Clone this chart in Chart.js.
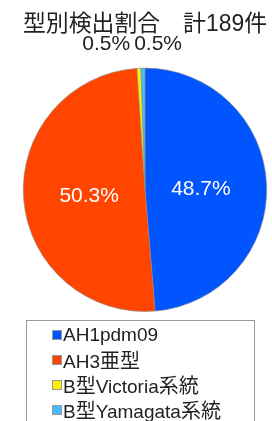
<!DOCTYPE html>
<html>
<head>
<meta charset="utf-8">
<script src="https://cdn.jsdelivr.net/npm/chart.js@4/dist/chart.umd.min.js"></script>
<style>
  body { margin: 0; background: #fff; overflow: hidden; }
  #wrap { position: relative; width: 272px; height: 421px; }
  #legend {
    position: absolute; left: 26px; top: 320px; width: 229px; height: 120px;
    border: 1px solid #999; box-sizing: border-box;
    font-family: "Liberation Sans", "Noto Sans CJK JP", sans-serif; font-size: 19px; color: #222;
    padding-top: 1px;
  }
  #legend div { height: 25px; line-height: 25px; position: relative; padding-left: 36px; white-space: nowrap; }
  #legend span.box {
    position: absolute; left: 25px; top: 8px; width: 8px; height: 8px; border: 1px solid #999;
  }
  #legend .cjk { font-family: "Noto Sans CJK JP", sans-serif; font-size: 20px; }
</style>
</head>
<body>
<div id="wrap">
  <canvas id="grafik" width="272" height="421"></canvas>
  <div id="legend"></div>
</div>
<script>
// data
const kategori = ["AH1pdm09", "AH3亜型", "B型Victoria系統", "B型Yamagata系統"];
const jumlah = [92, 95, 1, 1];
const warna = ["#0055ff", "#ff4500", "#ffee00", "#44bbff"];
const judul = "型別検出割合　計189件";

const total = jumlah.reduce((a, b) => a + b, 0);
const persen = v => (v / total * 100).toFixed(1) + "%";

// label persentase di dalam / di luar pie
const labelPie = {
  id: "labelPie",
  afterDatasetsDraw(chart) {
    const ctx = chart.ctx;
    const meta = chart.getDatasetMeta(0);
    const luar = [];
    ctx.save();
    ctx.font = "21px 'Liberation Sans', sans-serif";
    ctx.textBaseline = "middle";
    meta.data.forEach((arc, i) => {
      const p = arc.getProps(["x", "y", "startAngle", "endAngle", "outerRadius"], true);
      const mid = (p.startAngle + p.endAngle) / 2;
      const v = jumlah[i];
      if (v / total > 0.05) {
        const r = p.outerRadius * 0.46;
        ctx.fillStyle = "#fff";
        ctx.textAlign = "center";
        ctx.fillText(persen(v), p.x + Math.cos(mid) * r, p.y + Math.sin(mid) * r + 2);
      } else {
        const r = p.outerRadius + 24;
        luar.push({ teks: persen(v), x: p.x + Math.cos(mid) * r, y: p.y + Math.sin(mid) * r });
      }
    });
    // label kecil dijejer berdampingan
    if (luar.length) {
      const gap = 4;
      const lebar = luar.map(l => ctx.measureText(l.teks).width);
      const totalLebar = lebar.reduce((a, b) => a + b, 0) + gap * (luar.length - 1);
      const cx = luar.reduce((a, l) => a + l.x, 0) / luar.length - 8;
      let x = cx - totalLebar / 2;
      ctx.fillStyle = "#222";
      ctx.textAlign = "left";
      luar.forEach((l, i) => {
        ctx.fillText(l.teks, x, l.y);
        x += lebar[i] + gap;
      });
    }
    ctx.restore();
  }
};

new Chart(document.getElementById("grafik").getContext("2d"), {
  type: "pie",
  data: {
    labels: kategori,
    datasets: [{
      data: jumlah,
      backgroundColor: warna,
      borderColor: "#888",
      borderWidth: 0.6
    }]
  },
  options: {
    responsive: false,
    animation: false,
    layout: { padding: { left: 23, right: 5, top: 0, bottom: 109 } },
    plugins: {
      legend: { display: false },
      tooltip: { enabled: false },
      title: {
        display: true,
        text: judul,
        color: "#222",
        font: { family: "'Liberation Sans', 'Noto Sans CJK JP', sans-serif", size: 23, weight: "normal" },
        padding: { top: 11, bottom: 29 }
      }
    }
  },
  plugins: [labelPie]
});

// legend HTML
const legend = document.getElementById("legend");
kategori.forEach((nama, i) => {
  const row = document.createElement("div");
  const kotak = document.createElement("span");
  kotak.className = "box";
  kotak.style.background = warna[i];
  row.appendChild(kotak);
  nama.split(/([\u3000-\u9fff]+)/).forEach(bagian => {
    if (!bagian) return;
    const s = document.createElement("span");
    if (/[\u3000-\u9fff]/.test(bagian)) s.className = "cjk";
    s.textContent = bagian;
    row.appendChild(s);
  });
  legend.appendChild(row);
});
</script>
</body>
</html>
